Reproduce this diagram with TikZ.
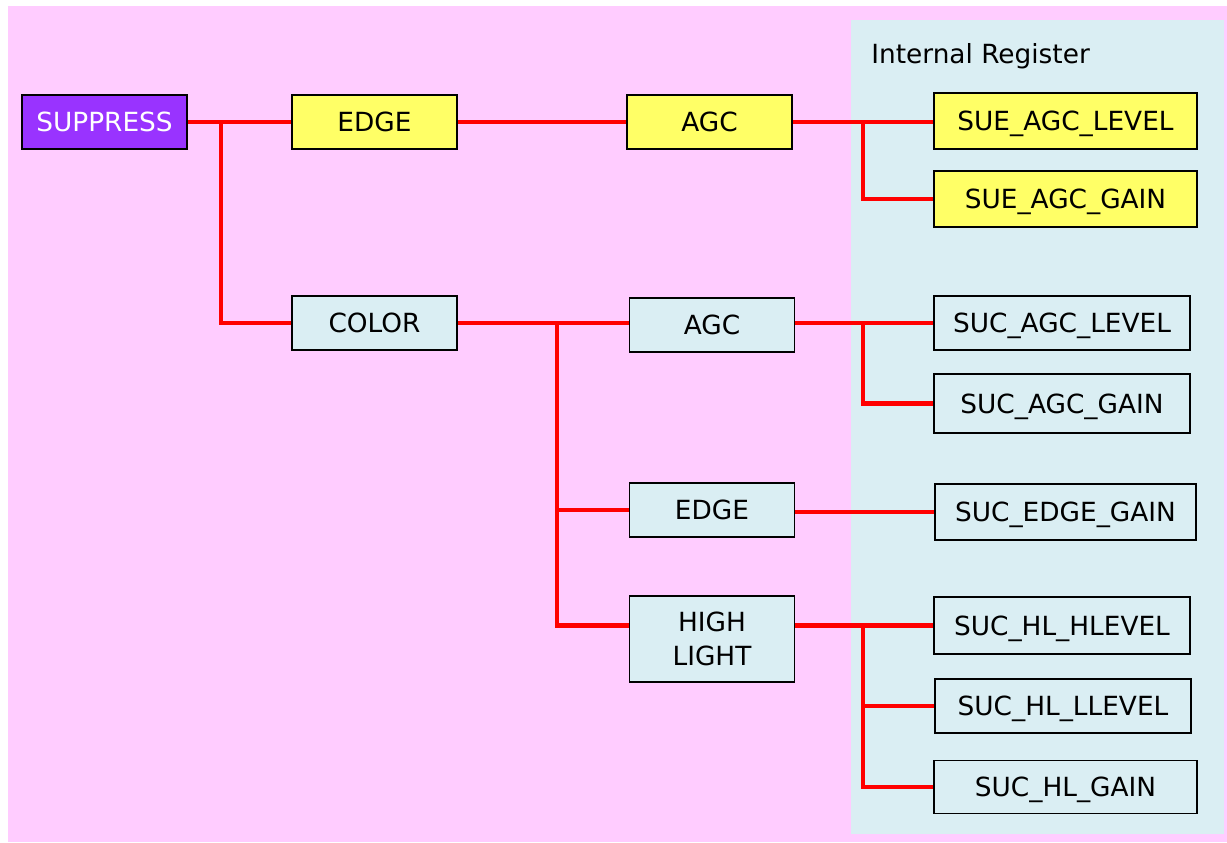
\documentclass[tikz,border=0pt]{standalone}
\usepackage{xcolor}
\usepackage{fontspec}
\setmainfont{DejaVu Sans}
\usepackage{tikz}
\usetikzlibrary{positioning,calc}

\definecolor{bgpink}{HTML}{FFCCFF}
\definecolor{regblue}{HTML}{DAEEF3}
\definecolor{boxyellow}{HTML}{FFFF66}
\definecolor{boxpurple}{HTML}{9933FF}

\begin{document}
\begin{tikzpicture}[
  x=0.02cm, y=-0.02cm,
  basebox/.style={draw, line width=1.1pt, minimum width=3.3cm, minimum height=1.08cm,
              inner sep=2pt, align=center, font=\fontsize{15}{19}\selectfont, fill=regblue},
  box/.style={basebox, text height=12pt, text depth=1.1pt},
  regbox/.style={box, minimum width=5.2cm, minimum height=1.12cm},
  wire/.style={red, line width=2.3pt}
]
  \useasboundingbox (0,0) rectangle (1227,842);
  % Hintergrund
  \fill[bgpink] (8,6) rectangle (1227,842);
  \fill[regblue] (851,20) rectangle (1224,834);
  \node[anchor=base west, inner sep=0pt, font=\fontsize{15}{19}\selectfont] (title) at (871,63) {Internal Register};

  % Hauptzweig
  \node[box, fill=boxpurple, text=white] (sup) at (104.5,122) {SUPPRESS};
  \node[box, fill=boxyellow] (edge) at (374.5,122) {EDGE};
  \node[box, fill=boxyellow] (eagc) at (709.5,122) {AGC};
  \node[box] (color) at (374.5,323) {COLOR};

  % Farbzweig
  \node[box] (cagc) at (712,325) {AGC};
  \node[box] (cedge) at (712,510) {EDGE};
  \node[basebox, minimum height=1.72cm] (chl) at (712,639) {HIGH\\LIGHT};

  % Register
  \node[regbox, fill=boxyellow, minimum width=5.26cm] (suelev) at (1065.5,121) {SUE\_AGC\_LEVEL};
  \node[regbox, fill=boxyellow, minimum width=5.26cm] (suegain) at (1065.5,199) {SUE\_AGC\_GAIN};
  \node[regbox, minimum width=5.12cm, minimum height=1.08cm] (suclev) at (1062,323) {SUC\_AGC\_LEVEL};
  \node[regbox, minimum width=5.12cm, minimum height=1.18cm] (sucgain) at (1062,403.5) {SUC\_AGC\_GAIN};
  \node[regbox, minimum width=5.22cm] (sucedge) at (1065.5,512) {SUC\_EDGE\_GAIN};
  \node[regbox, minimum width=5.12cm, minimum height=1.14cm] (suchlh) at (1062,625.5) {SUC\_HL\_HLEVEL};
  \node[regbox, minimum width=5.12cm, minimum height=1.08cm] (suchll) at (1063,706) {SUC\_HL\_LLEVEL};
  \node[regbox, minimum width=5.26cm, minimum height=1.06cm] (suchlg) at (1065.5,787) {SUC\_HL\_GAIN};

  % Abzweigpunkte
  \coordinate (j1) at (221,122);
  \coordinate (j2) at (863,122);
  \coordinate (j3) at (557,323);
  \coordinate (j4) at (863,323);
  \coordinate (j5) at (863,627);

  \draw[wire] (sup.east) -- (edge.west);
  \draw[wire] (j1) |- (color.west);
  \draw[wire] (edge.east) -- (eagc.west);
  \draw[wire] (eagc.east) -- (suelev.west |- eagc.east);
  \draw[wire] (j2) |- (suegain.west);
  \draw[wire] (color.east) -- (cagc.west |- color.east);
  \draw[wire] (j3) |- (cedge.west);
  \draw[wire] (j3) |- (chl.west |- suchlh.west);
  \draw[wire] (cagc.east |- suclev.west) -- (suclev.west);
  \draw[wire] (j4) |- (sucgain.west);
  \draw[wire] (cedge.east |- sucedge.west) -- (sucedge.west);
  \draw[wire] (chl.east |- suchlh.west) -- (suchlh.west);
  \draw[wire] (j5) |- (suchll.west);
  \draw[wire] (j5) |- (suchlg.west);
\end{tikzpicture}
\end{document}
